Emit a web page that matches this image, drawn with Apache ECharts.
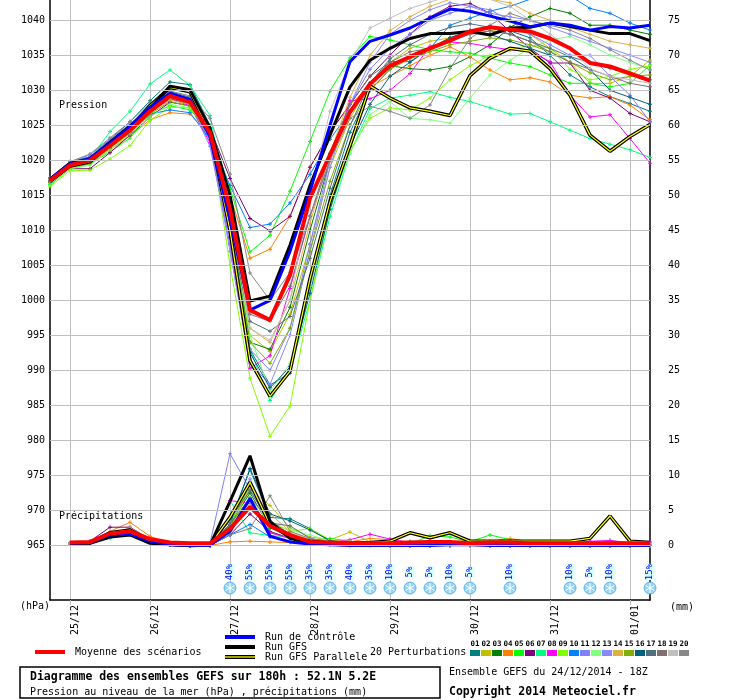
<!DOCTYPE html>
<html><head><meta charset="utf-8">
<script src="https://cdn.jsdelivr.net/npm/echarts@6/dist/echarts.min.js"></script>
<style>html,body{margin:0;padding:0;background:#fff}#c{width:740px;height:700px}</style>
</head><body><div id="c"></div>
<script>
// ---- time steps (hours since 24/12/2014 18Z) ----
const stepHours = [0,6,12,18,24,30,36,42,48,54,60,66,72,78,84,90,96,102,108,114,120,126,132,138,144,150,156,162,168,174,180];
const dayTickIndex = [1,5,9,13,17,21,25,29];
const dayTickLabels = ['25/12','26/12','27/12','28/12','29/12','30/12','31/12','01/01'];
const pressureTicks = [965,970,975,980,985,990,995,1000,1005,1010,1015,1020,1025,1030,1035,1040];
const precipTicks = [0,5,10,15,20,25,30,35,40,45,50,55,60,65,70,75];

const memberColors = ['#008080','#c0c000','#008000','#ff8000','#00ff00','#800080','#00ff80','#ff00ff','#80ff00','#0080ff',
                      '#8080ff','#80ff80','#8888ff','#e0b040','#80b000','#006080','#507080','#807070','#c0c0c0','#888888'];
const memberNames = ['01','02','03','04','05','06','07','08','09','10','11','12','13','14','15','16','17','18','19','20'];

// ---- pressure (hPa) ----
const pMean = [1017.1,1019.3,1020.0,1022.1,1024.3,1027.0,1029.2,1028.3,1024.0,1013.0,998.6,997.2,1003.6,1014.6,1020.8,1026.9,1030.9,1033.5,1034.8,1036.0,1037.1,1038.4,1039.0,1038.7,1038.4,1037.4,1036.0,1033.9,1033.4,1032.4,1031.4];
const pControl = [1017.3,1019.5,1020.3,1022.5,1024.8,1027.6,1029.6,1028.7,1023.4,1011.5,998.6,1000.0,1007.0,1015.6,1025.0,1034.1,1037.0,1037.9,1038.9,1040.3,1041.6,1041.3,1040.6,1039.9,1039.1,1039.6,1039.3,1038.6,1039.1,1038.9,1039.3];
const pGfs = [1017.3,1019.6,1020.2,1022.6,1024.9,1027.4,1030.6,1030.1,1024.6,1015.0,999.9,1000.6,1007.9,1016.4,1023.6,1030.5,1034.3,1036.0,1037.4,1038.1,1038.1,1038.4,1037.9,1038.9,1039.0,1039.6,1039.1,1038.6,1038.1,1038.1,1037.1];
const pGfsPar = [1017.0,1019.2,1019.8,1022.3,1024.6,1027.8,1030.4,1029.8,1024.0,1010.0,991.4,986.3,989.9,1003.1,1014.1,1022.1,1030.6,1028.9,1027.5,1027.0,1026.4,1032.1,1034.6,1036.0,1035.6,1033.1,1029.3,1023.6,1021.3,1023.4,1025.1];
const p01 = [1017.5,1019.8,1020.5,1023.0,1025.5,1028.5,1031.2,1030.8,1025.0,1012.0,993.0,987.9,989.6,1002.0,1015.0,1024.0,1030.0,1033.0,1035.0,1036.0,1037.5,1038.5,1039.0,1038.5,1037.5,1035.0,1032.2,1030.5,1029.1,1028.1,1027.0];
const p02 = [1017.0,1019.0,1019.8,1021.8,1024.0,1026.8,1029.0,1028.0,1023.5,1010.0,995.0,992.7,998.0,1008.0,1019.0,1026.0,1031.0,1034.0,1036.0,1037.0,1037.5,1038.0,1038.5,1039.0,1038.0,1036.0,1034.0,1031.0,1031.0,1032.0,1034.3];
const p03 = [1016.8,1019.0,1019.7,1021.8,1024.0,1026.9,1028.8,1028.0,1023.0,1011.0,994.0,993.0,999.0,1010.0,1020.0,1027.0,1031.0,1033.5,1033.1,1032.9,1033.4,1034.8,1036.5,1039.0,1040.5,1041.7,1041.0,1039.3,1039.3,1038.6,1038.0];
const p04 = [1016.9,1019.0,1019.5,1021.5,1023.5,1025.8,1026.8,1026.6,1023.5,1015.0,1006.0,1007.3,1012.0,1019.0,1024.0,1028.0,1030.5,1032.0,1033.5,1035.0,1036.2,1034.8,1032.9,1031.5,1031.8,1031.2,1029.3,1028.9,1029.1,1027.9,1025.8];
const p05 = [1016.5,1018.8,1019.5,1021.2,1023.2,1026.5,1027.8,1027.2,1024.5,1016.0,1006.9,1009.3,1015.6,1022.7,1029.9,1034.6,1037.7,1037.2,1036.5,1035.8,1035.5,1035.3,1034.6,1033.9,1033.4,1032.2,1031.0,1031.0,1030.5,1031.0,1033.6];
const p06 = [1016.8,1018.8,1018.8,1021.1,1023.6,1026.2,1028.3,1027.8,1024.6,1017.4,1011.7,1009.9,1012.0,1019.0,1024.0,1028.0,1032.0,1035.0,1038.0,1040.5,1042.0,1042.4,1041.0,1038.4,1036.0,1033.9,1033.9,1030.0,1028.9,1026.7,1025.5];
const p07 = [1016.5,1019.0,1020.2,1024.1,1027.0,1030.9,1032.9,1030.7,1026.4,1012.0,993.0,985.7,990.0,1000.0,1012.0,1021.0,1027.4,1028.9,1029.3,1029.8,1029.0,1028.4,1027.5,1026.6,1026.7,1025.5,1024.3,1023.1,1022.3,1021.5,1020.4];
const p08 = [1017.0,1019.2,1019.8,1022.0,1024.2,1026.8,1028.8,1027.8,1022.5,1008.0,990.3,992.1,1001.7,1012.0,1020.0,1028.5,1028.8,1030.0,1032.4,1036.3,1036.9,1036.7,1036.2,1035.8,1035.5,1034.1,1029.3,1026.2,1026.5,1023.1,1019.6];
const p09 = [1016.3,1018.5,1018.6,1020.2,1022.1,1025.7,1027.6,1027.5,1024.0,1005.0,988.9,980.6,984.9,1000.0,1013.0,1021.5,1026.0,1027.5,1027.2,1028.9,1031.5,1033.5,1035.0,1035.8,1036.5,1036.0,1033.0,1031.5,1032.0,1033.0,1033.5];
const p10 = [1017.2,1019.4,1020.0,1022.3,1024.5,1026.6,1027.2,1026.8,1023.0,1016.4,1010.4,1010.9,1013.9,1018.0,1023.0,1027.0,1031.0,1034.1,1034.1,1036.0,1039.3,1040.3,1041.3,1042.0,1043.0,1043.2,1043.5,1041.7,1041.0,1039.6,1038.6];
const p11 = [1017.4,1019.7,1020.8,1023.0,1025.2,1027.9,1029.2,1028.0,1022.0,1008.0,993.0,990.0,996.0,1008.0,1020.0,1028.0,1033.0,1036.0,1038.0,1040.0,1041.0,1042.0,1041.5,1040.0,1038.0,1036.5,1035.0,1035.0,1032.0,1029.3,1025.5];
const p12 = [1016.7,1018.8,1019.3,1021.5,1023.8,1026.2,1028.0,1027.5,1023.8,1012.0,995.0,987.0,991.0,1002.0,1013.0,1021.0,1026.5,1028.4,1026.0,1025.8,1025.3,1028.9,1032.2,1034.3,1036.0,1037.2,1037.7,1036.5,1035.0,1034.0,1033.0];
const p13 = [1017.1,1019.5,1020.5,1022.8,1025.0,1027.5,1029.0,1028.2,1023.0,1007.0,991.0,988.0,995.0,1007.0,1019.0,1028.0,1034.0,1038.0,1040.0,1041.5,1042.5,1042.0,1041.0,1040.5,1040.0,1039.0,1038.0,1037.0,1036.0,1035.0,1034.0];
const p14 = [1017.0,1019.3,1020.0,1022.0,1024.2,1026.8,1028.6,1028.0,1023.5,1011.0,996.0,994.0,1000.0,1011.0,1021.0,1029.0,1035.0,1038.5,1040.5,1042.0,1043.0,1043.5,1043.0,1042.5,1041.0,1040.0,1039.0,1038.0,1037.0,1036.5,1036.0];
const p15 = [1016.8,1019.0,1019.6,1021.7,1023.9,1026.6,1028.4,1027.7,1023.3,1010.0,994.0,991.0,996.0,1007.0,1017.0,1025.0,1030.0,1033.0,1034.5,1035.5,1036.5,1037.0,1037.5,1037.2,1036.5,1035.5,1034.0,1032.5,1031.5,1032.0,1032.2];
const p16 = [1017.2,1019.5,1020.4,1022.6,1024.9,1027.6,1029.8,1029.0,1024.2,1009.0,992.5,987.5,990.5,1001.0,1013.0,1022.0,1028.0,1032.0,1034.0,1036.0,1037.5,1038.5,1038.0,1037.0,1036.0,1035.0,1034.8,1033.0,1030.0,1029.0,1028.0];
const p17 = [1017.0,1019.2,1019.9,1022.0,1024.3,1027.1,1029.1,1028.3,1023.8,1010.0,997.0,995.6,997.7,1006.0,1016.0,1025.0,1031.0,1034.5,1036.5,1038.0,1039.0,1039.5,1039.0,1038.0,1037.0,1036.0,1034.8,1034.0,1033.1,1032.4,1031.5];
const p18 = [1017.2,1019.4,1020.1,1022.3,1024.6,1027.3,1029.4,1028.5,1024.2,1012.0,998.0,997.0,1002.0,1012.0,1021.0,1028.0,1032.0,1034.0,1035.5,1036.0,1037.0,1038.0,1038.5,1038.0,1037.0,1035.5,1034.0,1033.0,1032.0,1031.0,1030.5];
const p19 = [1017.3,1019.6,1020.4,1022.7,1025.0,1027.8,1029.7,1028.9,1024.5,1013.0,996.0,994.3,1000.0,1015.0,1027.0,1034.0,1038.9,1040.3,1041.7,1042.6,1043.5,1043.5,1043.0,1042.0,1040.0,1038.0,1036.0,1033.1,1032.0,1031.5,1031.0];
const p20 = [1017.4,1019.8,1020.9,1023.2,1025.5,1028.2,1029.9,1029.2,1026.0,1018.0,1003.9,1000.0,1004.0,1012.0,1020.0,1026.0,1027.7,1027.0,1026.0,1027.9,1033.1,1037.4,1039.3,1041.0,1040.0,1039.3,1038.6,1037.4,1035.8,1034.3,1032.9];
const pressureMembers = [p01,p02,p03,p04,p05,p06,p07,p08,p09,p10,p11,p12,p13,p14,p15,p16,p17,p18,p19,p20];

// ---- precipitation (mm / 6h) ----
const rMean = [null,0.4,0.5,1.7,2.0,0.9,0.4,0.3,0.3,2.4,5.5,2.8,1.5,0.5,0.4,0.3,0.3,0.3,0.4,0.5,0.5,0.3,0.4,0.4,0.3,0.3,0.3,0.3,0.3,0.3,0.3];
const rControl = [null,0.3,0.4,1.5,1.6,0.6,0.1,0,0,2.0,6.7,1.3,0.5,0.2,0.1,0,0,0,0,0,0.1,0.1,0,0,0,0,0,0,0,0,0];
const rGfs = [null,0.3,0.3,1.2,1.5,0.3,0.1,0,0,6.3,12.8,3.4,1.0,0.3,0.2,0.1,0.1,0.3,0.2,0.3,0.2,0.2,0.1,0.1,0.1,0.1,0.2,0.2,0.3,0.2,0.1];
const rGfsPar = [null,0.3,0.4,1.8,2.2,0.7,0.2,0,0.1,4.0,9.0,3.0,1.2,0.6,0.3,0.3,0.4,0.6,1.8,1.1,1.8,0.6,0.6,0.6,0.6,0.6,0.6,1.0,4.2,0.6,0.4];
const r01 = [null,0.3,0.4,1.6,2.1,0.8,0.2,0,0.1,3.5,10.8,4.0,3.8,2.4,0.6,0.3,0.2,0.1,0.1,0.2,0.1,0.1,0,0,0,0,0,0.1,0.1,0,0];
const r02 = [null,0.2,0.3,1.2,2.4,1.0,0.2,0,0.1,2.5,8.0,5.7,2.5,1.2,0.8,1.9,0.5,0.3,0.2,0.3,0.2,0.1,0.1,0.1,0,0,0.2,0.3,0.2,0.1,0];
const r03 = [null,0.3,0.5,1.4,1.8,0.6,0.1,0,0,3.0,7.5,2.5,1.2,0.5,0.4,0.2,0.1,0.1,0,0,0,0.2,0.4,0.2,0.1,0,0,0,0,0,0];
const r04 = [null,0.4,0.5,2.0,3.3,1.3,0.2,0,0,0.5,0.6,0.5,0.4,0.3,0.5,0.5,1.0,0.8,0.5,0.4,0.5,0.7,0.6,1.0,0.5,0.3,0.2,0.2,0.1,0.1,0.1];
const r05 = [null,0.3,0.4,1.3,1.9,0.7,0.2,0,0,3.0,9.0,1.8,1.0,0.7,1.0,0.6,0.3,0.3,0.2,1.4,1.2,0.5,1.5,0.8,0.3,0.2,0.3,0.4,0.7,0.3,0.2];
const r06 = [null,0.3,0.6,2.6,2.6,0.9,0.2,0,0,1.5,4.5,2.0,1.0,0.4,0.2,0.1,0.1,0,0,0,0,0.1,0.1,0,0,0,0.1,0.2,0.5,0.3,0.1];
const r07 = [null,0.2,0.3,1.0,1.6,0.5,0.1,0,0.1,6.4,1.8,1.4,1.2,0.8,0.4,0.3,0.2,0.2,0.1,0.1,0.1,0,0,0.1,0,0,0.1,0.1,0,0,0];
const r08 = [null,0.3,0.4,1.5,2.2,0.8,0.2,0,0.2,6.4,6.0,1.8,1.0,0.6,0.5,0.8,1.6,0.9,0.4,0.3,0.2,0.2,0.2,0.1,0.1,0.2,0.3,0.6,0.7,0.4,0.5];
const r09 = [null,0.3,0.4,1.1,1.5,0.6,0.1,0,0,2.0,8.5,3.5,2.0,2.4,0.8,0.4,0.3,0.2,0.2,0.2,0.2,0.2,0.1,0.1,0.1,0.2,0.4,0.3,0.2,0.1,0.1];
const r10 = [null,0.3,0.4,1.6,2.3,0.8,0.2,0,0,1.5,3.0,1.2,0.6,0.3,0.1,0,0,0,0,0,0,0,0,0,0,0,0,0,0,0,0];
const r11 = [null,0.3,0.5,1.8,2.1,0.6,0.1,0,0.3,13.1,8.0,3.0,1.3,0.6,0.3,0.2,0.2,0.1,0.1,0.2,0.3,0.3,0.1,0,0,0,0.1,0.1,0,0,0];
const r12 = [null,0.3,0.3,1.2,2.0,0.7,0.2,0,0,2.5,7.0,3.0,2.2,1.5,0.6,0.3,0.2,0.5,0.4,0.3,0.3,0.2,0.1,0.1,0,0.1,0.1,0.2,0.2,0.1,0];
const r13 = [null,0.3,0.4,1.4,1.7,0.6,0.1,0,0,3.5,9.5,3.5,1.5,0.8,0.5,0.2,0.1,0.1,0.1,0.1,0.2,0.1,0.1,0,0,0,0,0,0,0,0];
const r14 = [null,0.3,0.5,1.5,2.5,0.9,0.2,0,0,2.5,8.3,4.5,2.0,0.8,0.6,0.6,0.3,0.2,0.1,0.1,0.1,0.1,0,0,0,0,0,0,0,0,0];
const r15 = [null,0.2,0.4,1.3,1.9,0.6,0.1,0,0,2.5,8.8,2.8,1.4,0.6,0.3,0.2,0.2,0.1,0.1,0,0.1,0.1,0,0,0,0.1,0.1,0.1,0.1,0,0];
const r16 = [null,0.3,0.4,1.7,2.2,0.7,0.2,0,0,3.0,11.0,4.5,3.5,2.2,0.7,0.3,0.2,0.1,0.1,0.1,0.1,0.1,0.1,0,0,0,0,0,0,0,0];
const r17 = [null,0.3,0.4,1.6,2.0,0.7,0.1,0,0,3.8,7.8,3.2,2.8,1.0,0.5,0.2,0.1,0.1,0.1,0.1,0.1,0,0,0,0,0,0,0,0,0,0];
const r18 = [null,0.2,0.3,1.4,1.8,0.6,0.1,0,0,3.0,6.8,3.6,1.6,0.7,0.3,0.2,0.2,0.1,0.1,0.1,0.1,0.1,0,0,0,0,0,0,0,0,0];
const r19 = [null,0.3,0.4,1.5,2.1,0.7,0.2,0,0,2.2,5.8,2.8,1.3,0.7,0.3,0.2,0.2,0.1,0.1,0.1,0.1,0,0,0,0,0,0,0,0,0,0];
const r20 = [null,0.3,0.4,1.3,1.8,0.6,0.1,0,0,1.5,2.4,7.1,2.0,1.0,0.4,0.3,0.3,0.5,0.6,0.6,0.3,0.2,0.1,0.1,0,0,0,0,0,0,0];
const precipMembers = [r01,r02,r03,r04,r05,r06,r07,r08,r09,r10,r11,r12,r13,r14,r15,r16,r17,r18,r19,r20];

// ---- snow probability ----
const snowIndex = [9,10,11,12,13,14,15,16,17,18,19,20,21,23,26,27,28,30];
const snowPct =   [40,55,55,55,35,35,40,35,10,5,5,10,5,10,10,5,10,15];

const MONO = '"DejaVu Sans Mono", monospace';
const PLUS = 'path://M3,0h2v3h3v2h-3v3h-2v-3h-3v-2h3z';
const isDay = (i) => dayTickIndex.indexOf(i) >= 0;

const series = [];
// horizontal grid lines
series.push({
  type: 'line', data: [], yAxisIndex: 0, silent: true, z: 1,
  markLine: { silent: true, symbol: 'none', label: { show: false }, animation: false,
    lineStyle: { color: '#c0c0c0', type: 'solid', width: 1 },
    data: pressureTicks.map(v => ({ yAxis: v })) }
});
function memberLine(data, color, yIdx) {
  return { type: 'line', data: data, yAxisIndex: yIdx, z: 2,
    symbol: PLUS, symbolSize: 4, showSymbol: true, showAllSymbol: true,
    itemStyle: { color: color }, lineStyle: { color: color, width: 1 } };
}
precipMembers.forEach((d, k) => series.push(memberLine(d, memberColors[k], 1)));
pressureMembers.forEach((d, k) => series.push(memberLine(d, memberColors[k], 0)));
function mainLine(data, color, width, yIdx, z) {
  return { type: 'line', data: data, yAxisIndex: yIdx, z: z, symbol: 'none',
    lineStyle: { color: color, width: width } };
}
[[rGfsPar, rGfs, rControl, rMean, 1], [pGfsPar, pGfs, pControl, pMean, 0]].forEach(g => {
  const y = g[4];
  series.push(mainLine(g[0], '#000000', 3.5, y, 3));
  series.push(mainLine(g[0], '#ffff00', 1.2, y, 3));
  series.push(mainLine(g[1], '#000000', 3, y, 3));
  series.push(mainLine(g[2], '#0000ff', 3, y, 3));
  series.push(mainLine(g[3], '#ff0000', 4, y, 4));
});
// snow icons
series.push({
  type: 'custom', xAxisIndex: 0, yAxisIndex: 1, silent: true, z: 5, clip: false,
  data: snowIndex.map((ix, k) => [ix, snowPct[k]]),
  renderItem: function (params, api) {
    const x = api.coord([api.value(0), 0])[0];
    const cs = params.coordSys;
    const cy = cs.y + cs.height - 12;
    const kids = [{ type: 'circle', shape: { cx: x, cy: cy, r: 6 },
      style: { fill: '#96d6f4', stroke: '#4aa8dd', lineWidth: 0.8 } }];
    [90, 30, -30].forEach(a => {
      const r = a * Math.PI / 180, c = Math.cos(r) * 5, s = Math.sin(r) * 5;
      kids.push({ type: 'line', shape: { x1: x - c, y1: cy - s, x2: x + c, y2: cy + s },
        style: { stroke: '#ffffff', lineWidth: 1 } });
    });
    kids.push({ type: 'text', x: x, y: cy - 16, rotation: Math.PI / 2,
      style: { text: api.value(1) + '%', fill: '#0000ff', font: '9px ' + MONO,
        align: 'center', verticalAlign: 'middle', backgroundColor: '#d6ffff' } });
    return { type: 'group', children: kids };
  }
});

// ---- legend / titles (graphic) ----
const graphic = [];
function txt(x, y, t, font, extra) {
  graphic.push(Object.assign({ type: 'text', x: x, y: y,
    style: { text: t, font: font, fill: '#000', verticalAlign: 'middle' } }, extra || {}));
}
function seg(x1, x2, y, color, w) {
  graphic.push({ type: 'line', shape: { x1: x1, y1: y, x2: x2, y2: y }, style: { stroke: color, lineWidth: w } });
}
txt(59, 105, 'Pression', '10px ' + MONO);
txt(59, 516, 'Précipitations', '10px ' + MONO);
txt(20, 606, '(hPa)', '10px ' + MONO);
txt(670, 607, '(mm)', '10px ' + MONO);
seg(35, 65, 652, '#ff0000', 4);
txt(75, 652, 'Moyenne des scénarios', '10px ' + MONO);
seg(225, 255, 637, '#0000ff', 4);
seg(225, 255, 647, '#000000', 4);
seg(225, 255, 657, '#000000', 4);
seg(225, 255, 657, '#ffff00', 1.3);
txt(265, 637, 'Run de contrôle', '10px ' + MONO);
txt(265, 647, 'Run GFS', '10px ' + MONO);
txt(265, 657, 'Run GFS Parallele', '10px ' + MONO);
txt(370, 652, '20 Perturbations', '10px ' + MONO);
memberColors.forEach((c, k) => {
  graphic.push({ type: 'rect', shape: { x: 470 + 11 * k, y: 650, width: 10, height: 6 }, style: { fill: c } });
  graphic.push({ type: 'text', x: 475 + 11 * k, y: 644,
    style: { text: memberNames[k], font: 'bold 7.5px ' + MONO, fill: '#000', align: 'center', verticalAlign: 'middle' } });
});
graphic.push({ type: 'rect', shape: { x: 20, y: 667, width: 420, height: 31 },
  style: { fill: '#fff', stroke: '#000', lineWidth: 1.5 } });
txt(30, 677, 'Diagramme des ensembles GEFS sur 180h : 52.1N 5.2E', 'bold 11.5px ' + MONO);
txt(30, 692, 'Pression au niveau de la mer (hPa) , précipitations (mm)', '10px ' + MONO);
txt(449, 672, 'Ensemble GEFS du 24/12/2014 - 18Z', '10px ' + MONO);
txt(449, 692, 'Copyright 2014 Meteociel.fr', 'bold 11.5px ' + MONO);

const chart = echarts.init(document.getElementById('c'), null, { renderer: 'canvas' });
chart.setOption({
  animation: false,
  backgroundColor: '#ffffff',
  grid: { left: 50, right: 90, top: 0, bottom: 100, containLabel: false },
  xAxis: {
    type: 'category', data: stepHours, boundaryGap: false,
    axisLine: { show: true, onZero: false, lineStyle: { color: '#000', width: 1.5 } },
    axisTick: { show: true, interval: (i) => isDay(i), length: 5, lineStyle: { color: '#c0c0c0' } },
    axisLabel: { interval: (i) => isDay(i), rotate: 90, margin: 5, verticalAlign: 'top',
      formatter: (v, i) => dayTickLabels[dayTickIndex.indexOf(i)] || '',
      color: '#000', fontSize: 10, fontFamily: MONO },
    splitLine: { show: true, interval: (i) => isDay(i), lineStyle: { color: '#c0c0c0', width: 1 } }
  },
  yAxis: [
    { type: 'value', min: 957.2, max: 1042.9, position: 'left',
      axisLine: { show: true, lineStyle: { color: '#000', width: 1.5 } },
      axisTick: { show: false }, splitLine: { show: false },
      axisLabel: { customValues: pressureTicks, formatter: (v) => String(v), margin: 5,
        padding: [5, 0, 0, 0], color: '#000', fontSize: 10, fontFamily: MONO } },
    { type: 'value', min: -7.8, max: 77.9, position: 'right',
      axisLine: { show: true, lineStyle: { color: '#000', width: 1.5 } },
      axisTick: { show: false }, splitLine: { show: false },
      axisLabel: { customValues: precipTicks, formatter: (v) => String(v), margin: 18,
        padding: [5, 0, 0, 0], color: '#000', fontSize: 10, fontFamily: MONO } }
  ],
  series: series,
  graphic: graphic
});
</script>
</body></html>
